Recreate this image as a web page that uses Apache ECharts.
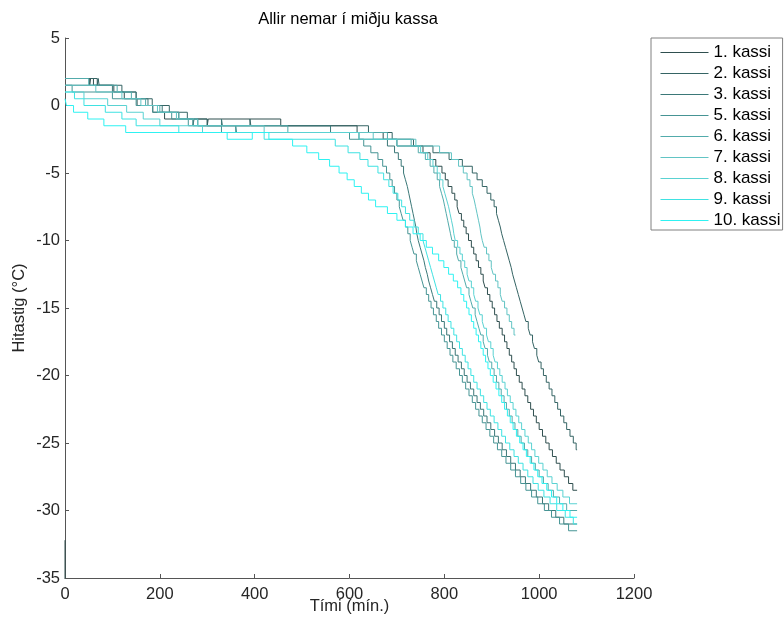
<!DOCTYPE html>
<html>
<head>
<meta charset="utf-8">
<script src="https://cdn.jsdelivr.net/npm/echarts@6/dist/echarts.min.js"></script>
<style>html,body{margin:0;padding:0;background:#fff}#c{width:784px;height:621px}</style>
</head>
<body>
<div id="c"></div>
<script>
const titleText = 'Allir nemar í miðju kassa';
const xName = 'Tími (mín.)';
const yName = 'Hitastig (°C)';
const names = ['1. kassi','2. kassi','3. kassi','5. kassi','6. kassi','7. kassi','8. kassi','9. kassi','10. kassi'];
const colors = ['#2f4f4f','#356464','#3b7878','#469494','#52abab','#62c4c4','#5ad2d2','#3fe2e2','#2ef2f2'];

const k1 = [[0,2],[52,1.5],[54,2],[60,1.5],[103,1],[125,0.5],[152,0],[185,-0.5],[210,-1],[270,-1.5],[272,-1],[300,-1.5],[302,-1],[455,-1.5],[616,-2],[671,-2.5],[700,-3],[755,-3.5],[770,-4],[782,-4.5],[795,-5],[802,-5.5],[808,-6],[816,-6.5],[822,-7],[827,-7.5],[831,-8],[836,-8.5],[841,-9],[846,-9.5],[851,-10],[857,-10.5],[862,-11],[867,-11.5],[872,-12],[877,-12.5],[882,-13],[886,-13.5],[891,-14],[896,-14.5],[901,-15],[906,-15.5],[911,-16],[916,-16.5],[922,-17],[927,-17.5],[932,-18],[937,-18.5],[942,-19],[947,-19.5],[952,-20],[958,-20.5],[964,-21],[970,-21.5],[976,-22],[982,-22.5],[988,-23],[994,-23.5],[1000,-24],[1007,-24.5],[1014,-25],[1021,-25.5],[1028,-26],[1036,-26.5],[1044,-27],[1053,-27.5],[1062,-28],[1071,-28.5],[1080,-28.5]];
const k1Start = [[0,-36],[0,-32.2]];
const k2 = [[0,2],[68,1.5],[70,2],[72,1.5],[120,1],[150,0.5],[184,0],[220,-0.5],[258,-1],[300,-1.5],[390,-1],[392,-1.5],[640,-2],[690,-2.5],[735,-3],[776,-3.5],[810,-4],[838,-4.5],[859,-5],[869,-5.5],[880,-6],[890,-6.5],[898,-7],[905,-7.5],[910,-8],[914,-8.5],[918,-9],[921,-9.5],[925,-10],[929,-10.5],[933,-11],[937,-11.5],[941,-12],[944,-12.5],[948,-13],[952,-13.5],[956,-14],[960,-14.5],[964,-15],[968,-15.5],[972,-16],[977,-16.5],[981,-17],[986,-17.5],[990,-18],[995,-18.5],[999,-19],[1004,-19.5],[1009,-20],[1015,-20.5],[1021,-21],[1027,-21.5],[1033,-22],[1039,-22.5],[1045,-23],[1052,-23.5],[1058,-24],[1065,-24.5],[1072,-25],[1078,-25.5],[1080,-25.5]];
const k3 = [[0,1.5],[100,1],[150,0.5],[175,0],[205,-0.5],[240,-1],[280,-1.5],[330,-1],[332,-1.5],[560,-2],[620,-2.5],[680,-3],[695,-3.5],[703,-4],[709,-4.5],[714,-5],[718,-5.5],[722,-6],[725,-6.5],[728,-7],[731,-7.5],[734,-8],[737,-8.5],[740,-9],[742,-9.5],[745,-10],[749,-10.5],[753,-11],[757,-11.5],[760,-12],[764,-12.5],[767,-13],[771,-13.5],[775,-14],[779,-14.5],[784,-15],[789,-15.5],[794,-16],[800,-16.5],[805,-17],[811,-17.5],[817,-18],[823,-18.5],[829,-19],[836,-19.5],[842,-20],[848,-20.5],[855,-21],[862,-21.5],[869,-22],[876,-22.5],[883,-23],[890,-23.5],[898,-24],[906,-24.5],[914,-25],[922,-25.5],[931,-26],[940,-26.5],[950,-27],[960,-27.5],[971,-28],[982,-28.5],[994,-29],[1007,-29.5],[1020,-30],[1035,-30.5],[1052,-31],[1080,-31]];
const k5 = [[0,1.5],[15,1],[100,0.5],[150,0],[185,-0.5],[225,-1],[260,-1.5],[330,-2],[360,-1.5],[362,-2],[600,-2.5],[630,-3],[645,-3.5],[660,-4],[670,-4.5],[678,-5],[685,-5.5],[690,-6],[695,-6.5],[700,-7],[705,-7.5],[709,-8],[713,-8.5],[718,-9],[723,-9.5],[728,-10],[732,-10.5],[736,-11],[741,-11.5],[745,-12],[749,-12.5],[753,-13],[757,-13.5],[762,-14],[767,-14.5],[772,-15],[777,-15.5],[783,-16],[788,-16.5],[794,-17],[800,-17.5],[806,-18],[812,-18.5],[818,-19],[825,-19.5],[832,-20],[838,-20.5],[845,-21],[852,-21.5],[859,-22],[866,-22.5],[873,-23],[880,-23.5],[888,-24],[896,-24.5],[904,-25],[912,-25.5],[921,-26],[930,-26.5],[940,-27],[950,-27.5],[961,-28],[972,-28.5],[984,-29],[997,-29.5],[1011,-30],[1026,-30.5],[1043,-31],[1062,-31.5],[1080,-31.5]];
const k6 = [[0,2],[50,1.5],[110,1],[140,0.5],[170,0],[200,-0.5],[240,-1],[270,-1.5],[470,-2],[680,-2.5],[730,-3],[745,-3.5],[760,-4],[770,-4.5],[778,-5],[785,-5.5],[790,-6],[794,-6.5],[798,-7],[801,-7.5],[804,-8],[807,-8.5],[810,-9],[813,-9.5],[816,-10],[821,-10.5],[826,-11],[830,-11.5],[835,-12],[839,-12.5],[843,-13],[847,-13.5],[852,-14],[856,-14.5],[860,-15],[865,-15.5],[869,-16],[873,-16.5],[877,-17],[882,-17.5],[886,-18],[891,-18.5],[895,-19],[900,-19.5],[905,-20],[910,-20.5],[915,-21],[920,-21.5],[926,-22],[931,-22.5],[937,-23],[943,-23.5],[949,-24],[955,-24.5],[962,-25],[969,-25.5],[976,-26],[984,-26.5],[992,-27],[1000,-27.5],[1009,-28],[1019,-28.5],[1030,-29],[1043,-29.5],[1058,-30],[1080,-30]];
const k7 = [[0,1.5],[65,1],[120,0.5],[160,0],[195,-0.5],[235,-1],[280,-1.5],[420,-2],[650,-2.5],[740,-3],[790,-3.5],[815,-4],[830,-4.5],[840,-5],[848,-5.5],[854,-6],[859,-6.5],[863,-7],[866,-7.5],[869,-8],[872,-8.5],[875,-9],[877,-9.5],[880,-10],[884,-10.5],[889,-11],[894,-11.5],[899,-12],[903,-12.5],[908,-13],[913,-13.5],[918,-14],[922,-14.5],[927,-15],[932,-15.5],[937,-16],[942,-16.5],[947,-17],[950,-17]];
const k8 = [[0,1],[40,0.5],[90,0],[130,-0.5],[165,-1],[200,-1.5],[290,-2],[620,-2.5],[700,-3],[750,-3.5],[765,-4],[776,-4.5],[785,-5],[791,-5.5],[797,-6],[801,-6.5],[805,-7],[809,-7.5],[812,-8],[815,-8.5],[818,-9],[820,-9.5],[823,-10],[828,-10.5],[833,-11],[838,-11.5],[843,-12],[848,-12.5],[852,-13],[857,-13.5],[862,-14],[866,-14.5],[871,-15],[875,-15.5],[880,-16],[884,-16.5],[889,-17],[893,-17.5],[898,-18],[903,-18.5],[907,-19],[912,-19.5],[917,-20],[922,-20.5],[928,-21],[933,-21.5],[939,-22],[945,-22.5],[951,-23],[957,-23.5],[963,-24],[970,-24.5],[977,-25],[984,-25.5],[991,-26],[999,-26.5],[1008,-27],[1017,-27.5],[1027,-28],[1038,-28.5],[1050,-29],[1064,-29.5],[1080,-29.5]];
const k9 = [[0,1],[20,0.5],[40,0],[85,-0.5],[120,-1],[150,-1.5],[240,-2],[420,-2.5],[570,-3],[597,-3.5],[622,-4],[639,-4.5],[660,-5],[672,-5.5],[683,-6],[692,-6.5],[702,-7],[710,-7.5],[718,-8],[727,-8.5],[736,-9],[745,-9.5],[755,-10],[759,-10.5],[763,-11],[767,-11.5],[771,-12],[775,-12.5],[779,-13],[783,-13.5],[787,-14],[792,-14.5],[797,-15],[803,-15.5],[808,-16],[814,-16.5],[820,-17],[826,-17.5],[832,-18],[838,-18.5],[844,-19],[850,-19.5],[856,-20],[862,-20.5],[869,-21],[876,-21.5],[883,-22],[890,-22.5],[897,-23],[905,-23.5],[913,-24],[921,-24.5],[929,-25],[938,-25.5],[947,-26],[956,-26.5],[966,-27],[976,-27.5],[987,-28],[998,-28.5],[1010,-29],[1023,-29.5],[1037,-30],[1055,-30.5],[1072,-31],[1080,-31]];
const k10 = [[0,0.5],[3,0],[18,-0.5],[48,-1],[82,-1.5],[128,-2],[342,-2.5],[395,-2],[430,-2.5],[480,-3],[510,-3.5],[535,-4],[558,-4.5],[578,-5],[595,-5.5],[610,-6],[625,-6.5],[640,-7],[655,-7.5],[680,-8],[700,-8.5],[718,-9],[734,-9.5],[749,-10],[762,-10.5],[775,-11],[788,-11.5],[799,-12],[809,-12.5],[819,-13],[828,-13.5],[835,-14],[841,-14.5],[847,-15],[852,-15.5],[857,-16],[862,-16.5],[867,-17],[872,-17.5],[877,-18],[882,-18.5],[887,-19],[892,-19.5],[897,-20],[903,-20.5],[909,-21],[915,-21.5],[921,-22],[927,-22.5],[933,-23],[939,-23.5],[945,-24],[952,-24.5],[959,-25],[966,-25.5],[973,-26],[981,-26.5],[989,-27],[997,-27.5],[1006,-28],[1016,-28.5],[1026,-29],[1037,-29.5],[1050,-30],[1065,-30.5],[1080,-30.5]];

const seriesData = [k1,k2,k3,k5,k6,k7,k8,k9,k10];

const FONT = "'Liberation Sans', Arial, Helvetica, sans-serif";
const FS = 16.5;
const chart = echarts.init(document.getElementById('c'), null, {renderer:'canvas'});

const series = seriesData.map((d,i)=>({
  name: names[i], type:'line', step:'end', data:d, symbol:'none', showSymbol:false,
  color: colors[i], lineStyle:{width:1, color: colors[i]}, animation:false, clip:true
}));
series.push({name: names[0], type:'line', data:k1Start, symbol:'none', color: colors[0], lineStyle:{width:1,color:colors[0]}, animation:false, clip:true});

chart.setOption({
  animation:false,
  backgroundColor:'#fff',
  title:{text:titleText, left:343, top:6, textAlign:'center', textStyle:{fontFamily:FONT, fontSize:FS, fontWeight:'normal', color:'#000'}},
  grid:{left:65, right:150, top:38, bottom:43, outerBoundsMode:'none', containLabel:false},
  legend:{data:names, orient:'vertical', left:651, top:38, itemWidth:48, itemHeight:14, itemGap:4,
    padding:[6,2,1,9], borderColor:'#808080', borderWidth:1, backgroundColor:'#fff',
    itemStyle:{opacity:0}, lineStyle:{width:1},
    textStyle:{fontFamily:FONT, fontSize:17, color:'#000'}},
  xAxis:{type:'value', min:0, max:1200, interval:200,
    name:xName, nameLocation:'middle', nameGap:20, nameMoveOverlap:false, nameTextStyle:{fontFamily:FONT, fontSize:FS, color:'#262626'},
    axisLine:{onZero:false, lineStyle:{color:'#555', width:1}}, axisTick:{inside:true, length:4, lineStyle:{color:'#555'}},
    axisLabel:{fontFamily:FONT, fontSize:FS, color:'#262626', margin:8, formatter:(v)=>String(v)}, splitLine:{show:false}},
  yAxis:{type:'value', min:-35, max:5, interval:5,
    name:yName, nameLocation:'middle', nameGap:37, nameMoveOverlap:false, nameTextStyle:{fontFamily:FONT, fontSize:FS, color:'#262626'},
    axisLine:{show:true, onZero:false, lineStyle:{color:'#555', width:1}}, axisTick:{show:true, inside:true, length:4, lineStyle:{color:'#555'}},
    axisLabel:{fontFamily:FONT, fontSize:FS, color:'#262626', margin:5, formatter:(v)=>String(v)}, splitLine:{show:false}},
  series: series
});
</script>
</body>
</html>
